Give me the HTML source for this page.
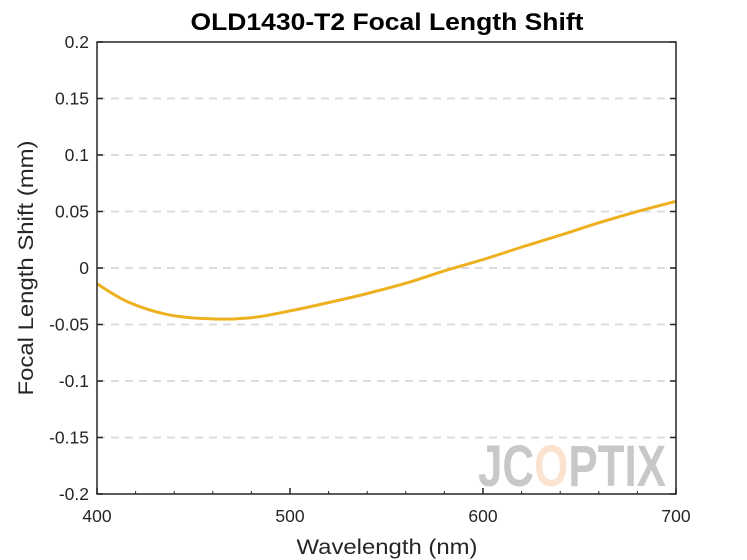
<!DOCTYPE html>
<html><head><meta charset="utf-8"><style>
body{margin:0;background:#fff;}
svg{display:block;font-family:"Liberation Sans",sans-serif;}
</style></head><body>
<svg id="chart" width="747" height="560" viewBox="0 0 747 560">
<rect width="747" height="560" fill="#fff"/>
<text x="387" y="30" text-anchor="middle" font-size="24" font-weight="bold" fill="#000" textLength="393" lengthAdjust="spacingAndGlyphs">OLD1430-T2 Focal Length Shift</text>
<g id="grid"></g>
<g id="wm" font-size="58" font-weight="bold" fill="#c8c8c8" font-family="'Liberation Sans Narrow','Liberation Sans',sans-serif">
<text x="478" y="486" textLength="188" lengthAdjust="spacingAndGlyphs">JC<tspan fill="#fbe3d0">O</tspan>PTIX</text>
</g>
<g id="marks"></g>
<rect x="97" y="42" width="579" height="452" fill="none" stroke="#262626" stroke-width="1.5"/>
<g id="axes"></g>
<text x="387" y="554" text-anchor="middle" font-size="21" fill="#262626" textLength="181" lengthAdjust="spacingAndGlyphs">Wavelength (nm)</text>
<text transform="translate(33,268) rotate(-90)" text-anchor="middle" font-size="21" fill="#262626" textLength="255" lengthAdjust="spacingAndGlyphs">Focal Length Shift (mm)</text>
</svg>
<script>
const wavelengths=[400,416,436,458,480,500,519,539,561,581,601,621,640,660,680,700];
const shifts=[-0.014,-0.030,-0.041,-0.045,-0.044,-0.038,-0.031,-0.023,-0.013,-0.002,0.008,0.019,0.029,0.040,0.050,0.059];
const yTicks=[-0.2,-0.15,-0.1,-0.05,0,0.05,0.1,0.15,0.2];
const yTickLabels=["-0.2","-0.15","-0.1","-0.05","0","0.05","0.1","0.15","0.2"];
const xTicks=[400,500,600,700];
const xTickLabels=["400","500","600","700"];
const X0=97,X1=676,Y0=494,Y1=42;
const sx=v=>X0+(v-400)/300*(X1-X0);
const sy=v=>Y0-(v+0.2)/0.4*(Y0-Y1);
const NS="http://www.w3.org/2000/svg";
const grid=document.getElementById('grid'),axes=document.getElementById('axes'),marks=document.getElementById('marks');
function mk(tag,attrs,parent){const e=document.createElementNS(NS,tag);for(const k in attrs)e.setAttribute(k,attrs[k]);parent.appendChild(e);return e;}
yTicks.forEach((v,i)=>{
  const y=sy(v);
  if(i>0&&i<yTicks.length-1){
    const g=mk('line',{x1:X0,x2:X1,y1:y,y2:y,stroke:'#dcdcdc','stroke-width':2,'stroke-dasharray':'8,6'},grid);
    
    
  }
  mk('line',{x1:X0,x2:X0+6,y1:y,y2:y,stroke:'#262626','stroke-width':1.5},axes);
  mk('line',{x1:X1-6,x2:X1,y1:y,y2:y,stroke:'#262626','stroke-width':1.5},axes);
  const t=mk('text',{x:X0-8,y:y+6,'text-anchor':'end','font-size':17.5,fill:'#262626'},axes);
  t.textContent=yTickLabels[i];
  
  
});
for(let w=420;w<700;w+=20){mk('line',{x1:sx(w),x2:sx(w),y1:Y0,y2:Y0-3,stroke:'#262626','stroke-width':1},axes);}
xTicks.forEach((v,i)=>{
  const x=sx(v);
  mk('line',{x1:x,x2:x,y1:Y0,y2:Y0-6,stroke:'#262626','stroke-width':1.5},axes);
  const t=mk('text',{x:x,y:Y0+28,'text-anchor':'middle','font-size':17.5,fill:'#262626'},axes);
  t.textContent=xTickLabels[i];
  
  
});
const pts=wavelengths.map((w,i)=>[sx(w),sy(shifts[i])]);
let d='M'+pts[0][0].toFixed(1)+','+pts[0][1].toFixed(1);
for(let i=0;i<pts.length-1;i++){
  const p0=pts[Math.max(0,i-1)],p1=pts[i],p2=pts[i+1],p3=pts[Math.min(pts.length-1,i+2)];
  const c1=[p1[0]+(p2[0]-p0[0])/6,p1[1]+(p2[1]-p0[1])/6];
  const c2=[p2[0]-(p3[0]-p1[0])/6,p2[1]-(p3[1]-p1[1])/6];
  d+='C'+c1.map(v=>v.toFixed(1)).join(',')+' '+c2.map(v=>v.toFixed(1)).join(',')+' '+p2.map(v=>v.toFixed(1)).join(',');
}
const p=mk('path',{d:d,fill:'none',stroke:'#EDB120','stroke-width':3,'stroke-linejoin':'round'},marks);


</script>
</body></html>
